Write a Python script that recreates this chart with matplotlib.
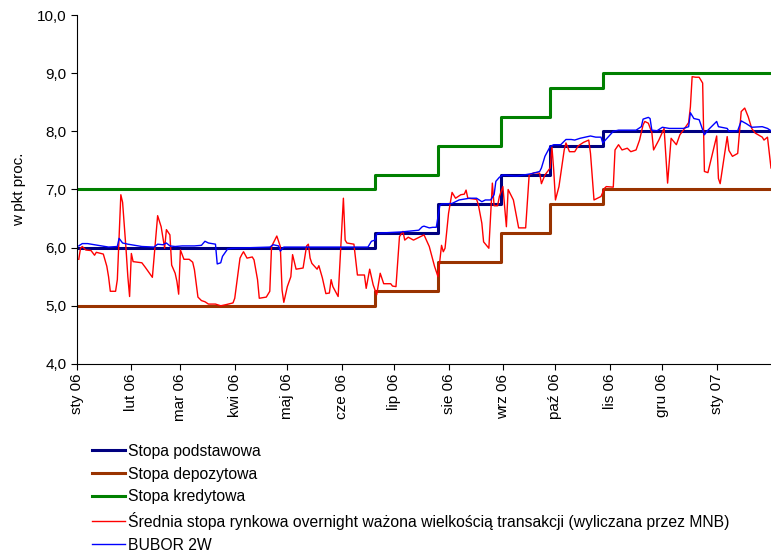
import matplotlib
matplotlib.use("Agg")
import matplotlib.pyplot as plt
import matplotlib.dates as mdates
from matplotlib.ticker import FuncFormatter, FixedLocator
import pandas as pd

plt.rcParams["font.family"] = ["Liberation Sans", "DejaVu Sans"]

# policy rate corridor (step changes)
policy_dates = ["2006-01-02", "2006-06-20", "2006-07-26", "2006-08-31",
                "2006-09-28", "2006-10-28", "2007-02-01"]
base_rate = [6.00, 6.25, 6.75, 7.25, 7.75, 8.00, 8.00]
deposit_rate = [5.00, 5.25, 5.75, 6.25, 6.75, 7.00, 7.00]
credit_rate = [7.00, 7.25, 7.75, 8.25, 8.75, 9.00, 9.00]

# weighted overnight rate (MNB)
on_dates = [
    "2006-01-02", "2006-01-03", "2006-01-04", "2006-01-06", "2006-01-09", "2006-01-11",
    "2006-01-12", "2006-01-16", "2006-01-18", "2006-01-19", "2006-01-20", "2006-01-23",
    "2006-01-24", "2006-01-26", "2006-01-27", "2006-01-29", "2006-01-30", "2006-01-31",
    "2006-02-01", "2006-02-02", "2006-02-07", "2006-02-09", "2006-02-13", "2006-02-16",
    "2006-02-18", "2006-02-20", "2006-02-21", "2006-02-23", "2006-02-24", "2006-02-26",
    "2006-02-27", "2006-02-28", "2006-03-01", "2006-03-03", "2006-03-06", "2006-03-08",
    "2006-03-09", "2006-03-11", "2006-03-13", "2006-03-15", "2006-03-17", "2006-03-21",
    "2006-03-24", "2006-03-27", "2006-03-31", "2006-04-01", "2006-04-04", "2006-04-05",
    "2006-04-06", "2006-04-08", "2006-04-11", "2006-04-12", "2006-04-14", "2006-04-15",
    "2006-04-19", "2006-04-21", "2006-04-22", "2006-04-25", "2006-04-27", "2006-04-28",
    "2006-04-29", "2006-05-01", "2006-05-03", "2006-05-04", "2006-05-06", "2006-05-10",
    "2006-05-12", "2006-05-13", "2006-05-14", "2006-05-15", "2006-05-18", "2006-05-19",
    "2006-05-21", "2006-05-23", "2006-05-25", "2006-05-26", "2006-05-27", "2006-05-30",
    "2006-06-02", "2006-06-03", "2006-06-04", "2006-06-08", "2006-06-09", "2006-06-10",
    "2006-06-14", "2006-06-15", "2006-06-17", "2006-06-19", "2006-06-21", "2006-06-23",
    "2006-06-25", "2006-06-29", "2006-06-30", "2006-07-02", "2006-07-04", "2006-07-06",
    "2006-07-07", "2006-07-09", "2006-07-12", "2006-07-16", "2006-07-18", "2006-07-21",
    "2006-07-23", "2006-07-24", "2006-07-26", "2006-07-28", "2006-07-29", "2006-07-30",
    "2006-08-01", "2006-08-03", "2006-08-05", "2006-08-08", "2006-08-10", "2006-08-11",
    "2006-08-12", "2006-08-17", "2006-08-18", "2006-08-20", "2006-08-21", "2006-08-24",
    "2006-08-26", "2006-08-27", "2006-08-29", "2006-08-30", "2006-09-01", "2006-09-03",
    "2006-09-04", "2006-09-07", "2006-09-10", "2006-09-14", "2006-09-16", "2006-09-19",
    "2006-09-22", "2006-09-23", "2006-09-25", "2006-09-28", "2006-09-29", "2006-09-30",
    "2006-10-01", "2006-10-03", "2006-10-06", "2006-10-07", "2006-10-09", "2006-10-12",
    "2006-10-14", "2006-10-17", "2006-10-20", "2006-10-21", "2006-10-23", "2006-10-27",
    "2006-10-29", "2006-10-30", "2006-11-03", "2006-11-04", "2006-11-06", "2006-11-08",
    "2006-11-11", "2006-11-13", "2006-11-16", "2006-11-18", "2006-11-20", "2006-11-21",
    "2006-11-23", "2006-11-25", "2006-11-26", "2006-11-29", "2006-12-02", "2006-12-04",
    "2006-12-06", "2006-12-09", "2006-12-11", "2006-12-13", "2006-12-16", "2006-12-17",
    "2006-12-18", "2006-12-20", "2006-12-22", "2006-12-24", "2006-12-25", "2006-12-27",
    "2007-01-01", "2007-01-02", "2007-01-03", "2007-01-07", "2007-01-08", "2007-01-10",
    "2007-01-13", "2007-01-15", "2007-01-17", "2007-01-19", "2007-01-21", "2007-01-23",
    "2007-01-27", "2007-01-28", "2007-01-30", "2007-02-01",
]
on_rate = [
    5.80, 5.99, 6.02, 5.96, 5.95, 5.87,
    5.92, 5.89, 5.68, 5.50, 5.25, 5.25,
    5.45, 6.91, 6.78, 5.96, 5.50, 5.16,
    5.90, 5.76, 5.74, 5.66, 5.49, 6.55,
    6.36, 5.99, 6.31, 6.22, 5.70, 5.56,
    5.42, 5.20, 5.96, 5.80, 5.80, 5.75,
    5.62, 5.15, 5.09, 5.07, 5.03, 5.03,
    5.00, 5.02, 5.05, 5.13, 5.82, 5.88,
    5.93, 5.82, 5.84, 5.79, 5.45, 5.13,
    5.15, 5.25, 6.02, 6.20, 6.02, 5.27,
    5.06, 5.33, 5.50, 5.88, 5.63, 5.65,
    6.03, 6.06, 5.82, 5.73, 5.63, 5.69,
    5.48, 5.21, 5.22, 5.45, 5.33, 5.16,
    6.85, 6.13, 6.08, 6.06, 5.79, 5.53,
    5.53, 5.30, 5.63, 5.36, 5.19, 5.56,
    5.38, 5.38, 5.34, 5.33, 6.19, 6.28,
    6.13, 6.18, 6.13, 6.19, 6.22, 6.02,
    5.79, 5.68, 5.50, 6.04, 5.93, 5.99,
    6.59, 6.95, 6.85, 6.91, 6.92, 6.99,
    6.85, 6.83, 6.74, 6.42, 6.10, 5.99,
    7.11, 6.72, 6.72, 6.88, 7.05, 6.36,
    7.00, 6.82, 6.34, 6.34, 7.25, 7.29,
    7.28, 7.10, 7.25, 7.37, 7.73, 7.34,
    6.82, 7.05, 7.68, 7.80, 7.65, 7.65,
    7.75, 7.81, 7.85, 7.62, 6.82, 6.88,
    7.02, 7.05, 7.04, 7.68, 7.77, 7.68,
    7.71, 7.65, 7.68, 7.85, 8.11, 8.17,
    8.14, 7.98, 7.68, 7.85, 8.05, 7.11,
    7.88, 7.77, 7.94, 8.02, 8.15, 8.42,
    8.94, 8.93, 8.93, 8.83, 7.31, 7.29,
    7.92, 7.19, 7.10, 7.91, 7.67, 7.57,
    7.62, 8.34, 8.40, 8.25, 8.05, 7.97,
    7.90, 7.85, 7.90, 7.37,
]

# BUBOR 2W
bubor_dates = [
    "2006-01-02", "2006-01-04", "2006-01-07", "2006-01-11", "2006-01-15", "2006-01-19",
    "2006-01-24", "2006-01-25", "2006-01-27", "2006-01-30", "2006-02-03", "2006-02-07",
    "2006-02-14", "2006-02-16", "2006-02-19", "2006-02-21", "2006-02-23", "2006-02-26",
    "2006-03-02", "2006-03-09", "2006-03-13", "2006-03-15", "2006-03-17", "2006-03-21",
    "2006-03-22", "2006-03-24", "2006-03-25", "2006-03-28", "2006-03-31", "2006-04-21",
    "2006-04-23", "2006-04-26", "2006-04-27", "2006-04-29", "2006-05-12", "2006-06-16",
    "2006-06-18", "2006-06-20", "2006-06-21", "2006-06-22", "2006-07-05", "2006-07-15",
    "2006-07-17", "2006-07-18", "2006-07-21", "2006-07-23", "2006-07-25", "2006-07-27",
    "2006-07-28", "2006-08-03", "2006-08-07", "2006-08-13", "2006-08-17", "2006-08-20",
    "2006-08-22", "2006-08-25", "2006-08-27", "2006-08-28", "2006-08-30", "2006-09-01",
    "2006-09-09", "2006-09-17", "2006-09-22", "2006-09-23", "2006-09-25", "2006-09-28",
    "2006-09-30", "2006-10-04", "2006-10-07", "2006-10-10", "2006-10-12", "2006-10-15",
    "2006-10-21", "2006-10-24", "2006-10-27", "2006-10-28", "2006-10-31", "2006-11-03",
    "2006-11-06", "2006-11-16", "2006-11-19", "2006-11-20", "2006-11-23", "2006-11-24",
    "2006-11-25", "2006-11-28", "2006-12-01", "2006-12-05", "2006-12-13", "2006-12-16",
    "2006-12-17", "2006-12-19", "2006-12-22", "2006-12-25", "2006-12-27", "2007-01-01",
    "2007-01-02", "2007-01-07", "2007-01-08", "2007-01-13", "2007-01-15", "2007-01-18",
    "2007-01-21", "2007-01-27", "2007-01-30", "2007-02-01",
]
bubor_rate = [
    6.03, 6.07, 6.07, 6.05, 6.03, 6.01,
    6.02, 6.16, 6.08, 6.06, 6.04, 6.02,
    6.01, 6.06, 6.05, 6.08, 6.03, 6.02,
    6.03, 6.03, 6.04, 6.11, 6.08, 6.06,
    5.72, 5.74, 5.85, 5.98, 5.99, 6.01,
    6.05, 6.03, 5.94, 6.01, 6.01, 6.01,
    6.11, 6.13, 6.23, 6.25, 6.27, 6.30,
    6.36, 6.37, 6.34, 6.35, 6.35, 6.72,
    6.75, 6.76, 6.82, 6.85, 6.85, 6.79,
    6.82, 6.82, 6.91, 7.14, 7.21, 7.25,
    7.23, 7.27, 7.31, 7.37, 7.57, 7.74,
    7.77, 7.77, 7.86, 7.86, 7.85, 7.88,
    7.92, 7.90, 7.90, 7.80, 7.90, 8.00,
    8.02, 8.02, 8.08, 8.21, 8.24, 8.22,
    8.02, 8.01, 8.07, 8.05, 8.05, 8.08,
    8.32, 8.22, 8.20, 7.94, 8.02, 8.17,
    8.08, 8.05, 8.00, 8.01, 8.18, 8.13,
    8.07, 8.08, 8.05, 8.01,
]

month_labels = ["sty 06", "lut 06", "mar 06", "kwi 06", "maj 06", "cze 06", "lip 06",
                "sie 06", "wrz 06", "paź 06", "lis 06", "gru 06", "sty 07"]

fig = plt.figure(figsize=(7.71, 5.58), dpi=100)
ax = fig.add_axes([0.0999, 0.3477, 0.9001, 0.6254])

pd_dates = pd.to_datetime(policy_dates)
ax.plot(pd_dates, base_rate, drawstyle="steps-post", color="#000080", lw=2.2,
        label="Stopa podstawowa")
ax.plot(pd_dates, deposit_rate, drawstyle="steps-post", color="#993300", lw=2.2,
        label="Stopa depozytowa")
ax.plot(pd_dates, credit_rate, drawstyle="steps-post", color="#008000", lw=2.2,
        label="Stopa kredytowa")
ax.plot(pd.to_datetime(on_dates), on_rate, color="#FF0000", lw=1.0,
        label="Średnia stopa rynkowa overnight ważona wielkością transakcji (wyliczana przez MNB)")
ax.plot(pd.to_datetime(bubor_dates), bubor_rate, color="#0000FF", lw=1.0,
        label="BUBOR 2W")

ax.set_ylim(4.0, 10.0)
ax.set_yticks([4, 5, 6, 7, 8, 9, 10])
ax.yaxis.set_major_formatter(FuncFormatter(lambda v, p: f"{v:.1f}".replace(".", ",")))

month_ticks = pd.date_range("2006-01-01", "2007-01-01", freq="MS")
ax.set_xlim(pd.Timestamp("2006-01-01"), pd.Timestamp("2007-02-01"))
ax.xaxis.set_major_locator(FixedLocator(mdates.date2num(month_ticks)))
ax.set_xticklabels(month_labels, rotation=90)

ax.tick_params(axis="both", labelsize=11, direction="out", length=4, width=0.8)
ax.tick_params(axis="x", pad=3)
for s in ["top", "right"]:
    ax.spines[s].set_visible(False)
for s in ["left", "bottom"]:
    ax.spines[s].set_linewidth(0.8)

ax.set_ylabel("w pkt proc.", fontsize=11)
ax.yaxis.set_label_coords(-0.073, 0.5)

fig.legend(loc="upper left", bbox_to_anchor=(0.119, 0.2045), frameon=False,
           fontsize=11.3, handlelength=2.1, handletextpad=0.2, labelspacing=0.49,
           borderpad=0, borderaxespad=0)

fig.savefig("out.png", dpi=100)
